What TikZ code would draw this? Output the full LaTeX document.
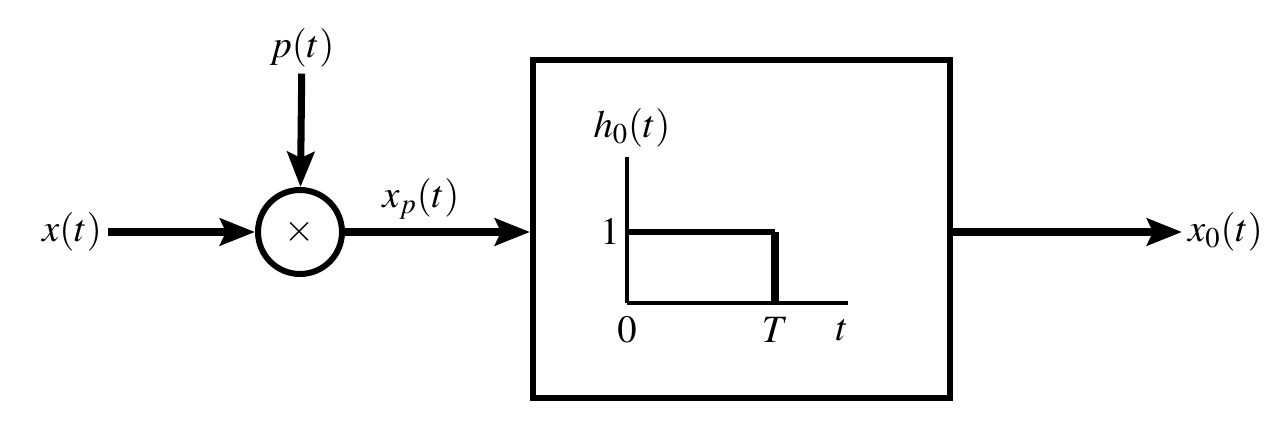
\documentclass[tikz,border=0pt]{standalone}
\usepackage{mathptmx}
\usepackage{tikz}
\usetikzlibrary{arrows.meta, calc}

\begin{document}
\begin{tikzpicture}[scale=1, font=\fontsize{22}{26}\selectfont,
  sig/.style={line width=4pt, -{Stealth[length=7mm,width=5.4mm,inset=1.2mm]}},
  ax/.style={line width=2pt}]
  \useasboundingbox (0,0) rectangle (25.72,8.4);
  \node[anchor=east] (x) at (2.16,3.76) {$x(t)$};
  \node[circle,draw,line width=3.4pt,minimum size=1.68cm,inner sep=0pt] (mul) at (6,3.76) {$\times$};
  \node (p) at (6.04,7.44) {$p(t)$};
  \node[draw,line width=3.4pt,minimum width=8.34cm,minimum height=6.76cm] (sys) at (14.83,3.82) {};
  \node[anchor=west] (xo) at (23.64,3.76) {$x_0(t)$};
  \draw[sig] (x) -- (mul);
  \draw[sig] (p) -- (mul);
  \draw[sig] (mul) -- (sys.west |- mul) node[pos=0.41, above=2pt] (xp) {$x_p(t)$};
  \draw[sig] (sys.east |- xo) -- (xo);
  % impulse response inside the box
  \coordinate (o) at (12.54,2.34);
  \coordinate (T) at (15.5,2.34);
  \draw[ax] (o) -- ++(0,2.92);
  \draw[ax] (o) -- (16.96,2.34);
  \draw[line width=3.6pt] (o |- mul) -- (T |- mul);
  \draw[line width=4.5pt] (T |- mul) -- (T);
  \node (h) at (12.64,5.84) {$h_0(t)$};
  \node[anchor=east, inner sep=4pt] (one) at (o |- mul) {$1$};
  \node (zero) at (12.54,1.8) {$0$};
  \node (tT) at (15.5,1.8) {$T$};
  \node (tt) at (16.84,1.8) {$t$};
\end{tikzpicture}
\end{document}
